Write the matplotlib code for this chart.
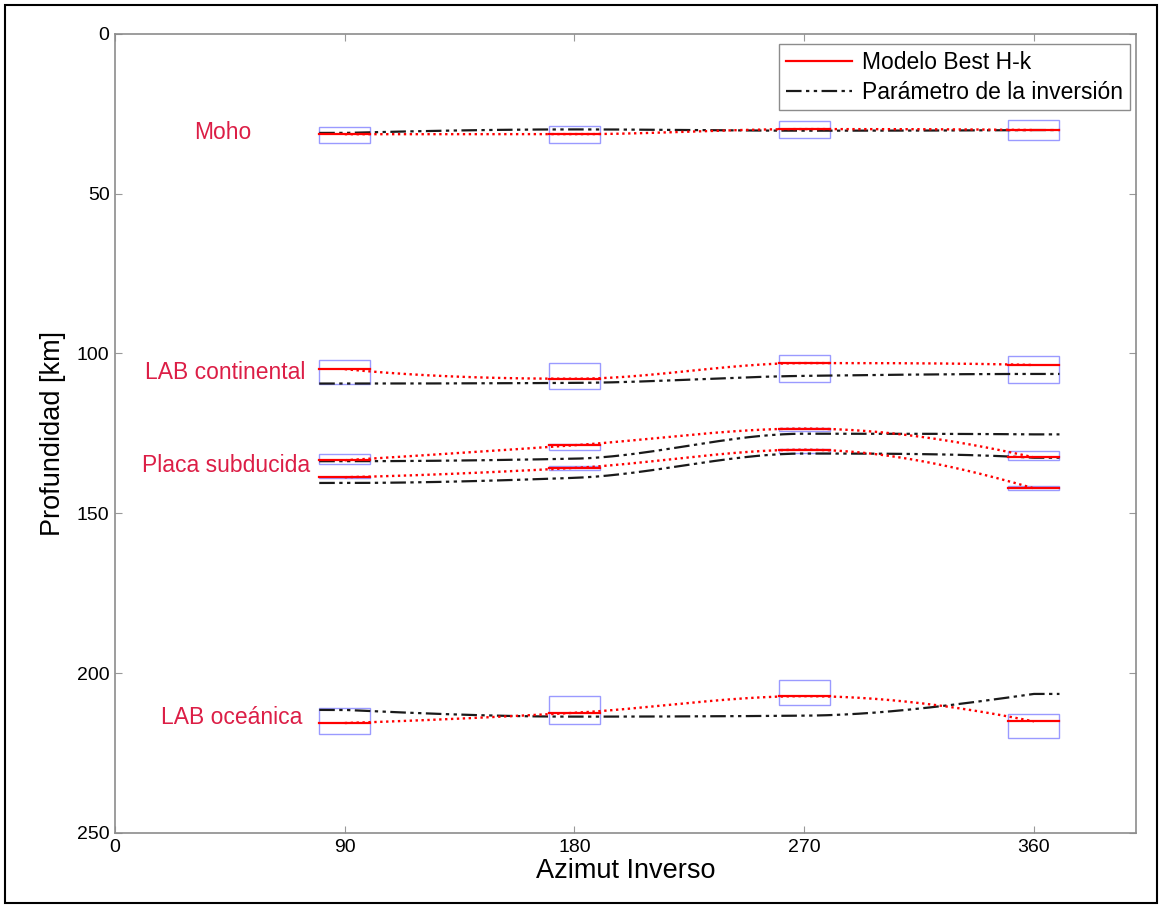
import numpy as np
import matplotlib
matplotlib.use('Agg')
import matplotlib.pyplot as plt
from matplotlib.lines import Line2D
from matplotlib.patches import Rectangle

plt.rcParams['font.family'] = ['Liberation Sans', 'DejaVu Sans']

# azimuths of the four back-azimuth bins
azimuth = [90, 180, 270, 360]
layers = ['Moho', 'LAB continental', 'Placa subducida', 'LAB oceánica']

# best H-k model depths [km] (red)
moho_best = [31.4, 31.4, 29.8, 30.1]
labc_best = [104.9, 107.9, 103.0, 103.6]
slab_top_best = [133.4, 128.7, 123.5, 132.5]
slab_bot_best = [138.7, 135.8, 130.1, 142.2]
labo_best = [215.6, 212.4, 207.2, 215.1]

# inversion parameter depths [km] (black)
moho_inv = [31.0, 29.9, 30.3, 30.1]
labc_inv = [109.4, 109.2, 107.0, 106.4]
slab_top_inv = [133.7, 132.9, 125.1, 125.3]
slab_bot_inv = [140.5, 138.9, 131.3, 132.6]
labo_inv = [211.5, 213.6, 213.3, 206.5]

# uncertainty boxes (min, max depth) [km]
moho_lo = [29.1, 28.7, 27.2, 27.0]
moho_hi = [34.1, 34.3, 32.7, 33.2]
labc_lo = [102.1, 103.0, 100.5, 100.7]
labc_hi = [109.4, 111.1, 108.8, 109.2]
slab_top_lo = [131.3, 128.2, 123.2, 130.6]
slab_top_hi = [134.5, 130.3, 124.3, 133.4]
slab_bot_lo = [138.5, 135.3, 129.8, 141.6]
slab_bot_hi = [139.0, 136.6, 131.0, 142.8]
labo_lo = [210.8, 207.2, 202.0, 212.7]
labo_hi = [218.9, 215.9, 210.0, 220.4]

best = [moho_best, labc_best, slab_top_best, slab_bot_best, labo_best]
inv = [moho_inv, labc_inv, slab_top_inv, slab_bot_inv, labo_inv]
lo = [moho_lo, labc_lo, slab_top_lo, slab_bot_lo, labo_lo]
hi = [moho_hi, labc_hi, slab_top_hi, slab_bot_hi, labo_hi]

label_depth = [30.8, 106, 135, 214]


def pchip(x, y, xs):
    # shape preserving piecewise cubic (same idea as matlab pchip)
    x = np.asarray(x, float)
    y = np.asarray(y, float)
    h = np.diff(x)
    delta = np.diff(y) / h
    n = len(x)
    d = np.zeros(n)
    for k in range(1, n - 1):
        if delta[k - 1] * delta[k] > 0:
            w1 = 2 * h[k] + h[k - 1]
            w2 = h[k] + 2 * h[k - 1]
            d[k] = (w1 + w2) / (w1 / delta[k - 1] + w2 / delta[k])

    def end(h0, h1, d0, d1):
        s = ((2 * h0 + h1) * d0 - h0 * d1) / (h0 + h1)
        if np.sign(s) != np.sign(d0):
            s = 0.0
        elif np.sign(d0) != np.sign(d1) and abs(s) > abs(3 * d0):
            s = 3 * d0
        return s

    d[0] = end(h[0], h[1], delta[0], delta[1])
    d[-1] = end(h[-1], h[-2], delta[-1], delta[-2])
    k = np.clip(np.searchsorted(x, xs) - 1, 0, n - 2)
    t = (xs - x[k]) / h[k]
    h00 = 2 * t**3 - 3 * t**2 + 1
    h10 = t**3 - 2 * t**2 + t
    h01 = -2 * t**3 + 3 * t**2
    h11 = t**3 - t**2
    return h00 * y[k] + h10 * h[k] * d[k] + h01 * y[k + 1] + h11 * h[k] * d[k + 1]


red = '#ff0000'
box_col = '#9a9aff'
label_col = '#dc1e46'
dashdotdot = (0, (7, 2, 1.5, 2, 1.5, 2))
half = 10

fig = plt.figure(figsize=(11.61, 9.07), dpi=100)
ax = fig.add_axes([0.0991, 0.0816, 0.8794, 0.8811])

az = np.array(azimuth, dtype=float)
xs = np.linspace(az[0], az[-1], 300)
for b, v, l, h in zip(best, inv, lo, hi):
    # inversion parameter: smooth curve through the bin depths, flat at ends
    cv = pchip(az, v, xs)
    xx = np.concatenate([[az[0] - half], xs, [az[-1] + half]])
    yy = np.concatenate([[v[0]], cv, [v[-1]]])
    ax.plot(xx, yy, color='#1a1a1a', lw=1.6, linestyle=dashdotdot, zorder=3)
    # best model: dotted curve + solid segment in each bin
    cb = pchip(az, b, xs)
    ax.plot(xs, cb, color=red, lw=1.7, linestyle=(0, (1, 1.5)), zorder=4)
    for a, bb, l0, h0 in zip(az, b, l, h):
        ax.plot([a - half, a + half], [bb, bb], color=red, lw=1.6, zorder=5)
        ax.add_patch(Rectangle((a - half, l0), 2 * half, h0 - l0, fill=False,
                               edgecolor=box_col, lw=1.0, zorder=2))

label_x = [42, 43, 43.5, 45.5]
for name, x, d in zip(layers, label_x, label_depth):
    ax.text(x, d, name, color=label_col, fontsize=16.5, ha='center', va='center')

ax.set_xlim(0, 400)
ax.set_ylim(250, 0)
ax.set_xticks([0, 90, 180, 270, 360])
ax.set_yticks([0, 50, 100, 150, 200, 250])
ax.tick_params(direction='in', length=5, width=0.8, color='#999999',
               labelsize=14, top=True, right=True, pad=4)
for sp in ax.spines.values():
    sp.set_color('#8c8c8c')
    sp.set_linewidth(1.2)
ax.set_xlabel('Azimut Inverso', fontsize=19.5, labelpad=2)
ax.set_ylabel('Profundidad [km]', fontsize=19.5, labelpad=8)

handles = [Line2D([], [], color=red, lw=1.6),
           Line2D([], [], color='#1a1a1a', lw=1.6, linestyle=dashdotdot)]
leg = ax.legend(handles, ['Modelo Best H-k', 'Parámetro de la inversión'],
                loc='upper right', bbox_to_anchor=(0.994, 0.9875),
                fontsize=16.5, fancybox=False, framealpha=1,
                edgecolor='#8c8c8c', borderaxespad=0, handlelength=2.9,
                handletextpad=0.42, labelspacing=0.3, borderpad=0.3)
leg.get_frame().set_linewidth(1.0)

fig.add_artist(Rectangle((5 / 1161, 4 / 907), 1152 / 1161, 898 / 907,
                         transform=fig.transFigure, fill=False,
                         edgecolor='black', lw=1.5))

fig.savefig('out.png', dpi=100)
